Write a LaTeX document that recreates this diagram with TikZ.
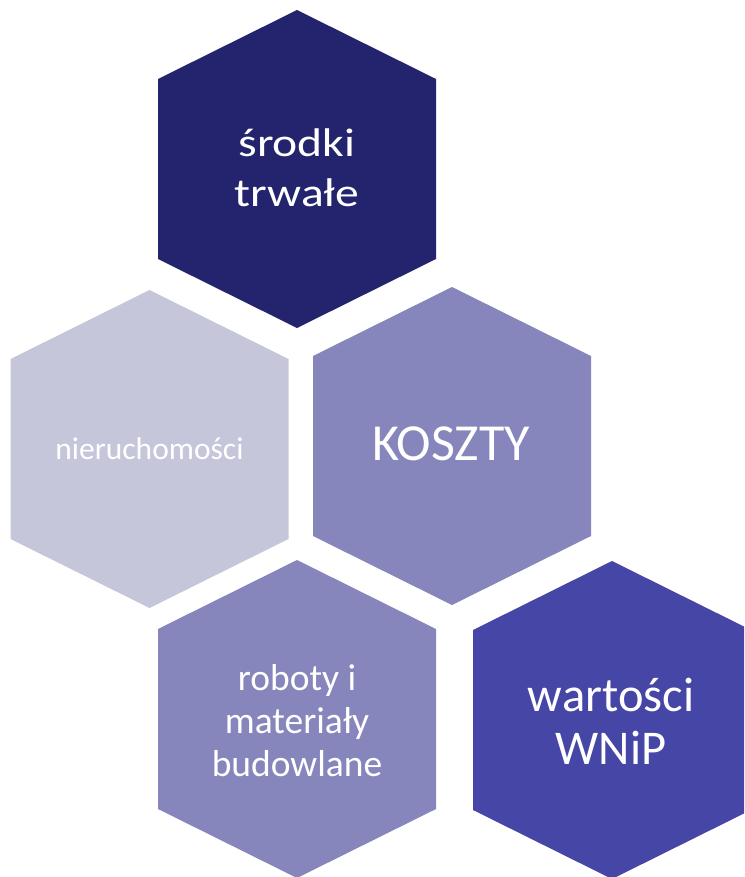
\documentclass[tikz,border=0pt]{standalone}
\usepackage{fontspec}
\setmainfont{Carlito}
\definecolor{granat}{HTML}{24246E}
\definecolor{blady}{HTML}{C5C6DA}
\definecolor{lawenda}{HTML}{8686BD}
\definecolor{indygo}{HTML}{4646A6}
\tikzset{
  hexlabel/.style={text=white, align=center, inner sep=0pt}
}
% hexagon around a centre point
\newcommand{\hexa}[3]{%
  \fill[#3] (#1,#2) +(0,-159) -- +(139,-90) -- +(139,90) -- +(0,159)
    -- +(-139,90) -- +(-139,-90) -- cycle;}
% widened text line
\newcommand{\szeroki}[1]{\scalebox{1.19}[1]{#1}}
\begin{document}
\begin{tikzpicture}[x=1pt,y=-1pt]
\useasboundingbox (0,0) rectangle (744,877);
\clip (0,0) rectangle (744,877);
\hexa{297}{169}{granat}
\hexa{149.5}{449}{blady}
\hexa{452}{446}{lawenda}
\hexa{297}{719}{lawenda}
\hexa{612}{720}{indygo}
\node[hexlabel, font=\fontsize{40}{50}\selectfont] (srodki) at (297,168) {\szeroki{środki}\\\szeroki{trwałe}};
\node[hexlabel, font=\fontsize{31.5}{37}\selectfont] (nieruch) at (149.5,449) {nieruchomości};
\node[hexlabel, font=\fontsize{52}{60}\selectfont] (koszty) at (451,444) {KOSZTY};
\node[hexlabel, font=\fontsize{37.5}{43}\selectfont] (roboty) at (297,721) {roboty i\\materiały\\budowlane};
\node[hexlabel, font=\fontsize{48.5}{53}\selectfont] (wnip) at (611,721) {wartości\\WNiP};
\end{tikzpicture}
\end{document}
